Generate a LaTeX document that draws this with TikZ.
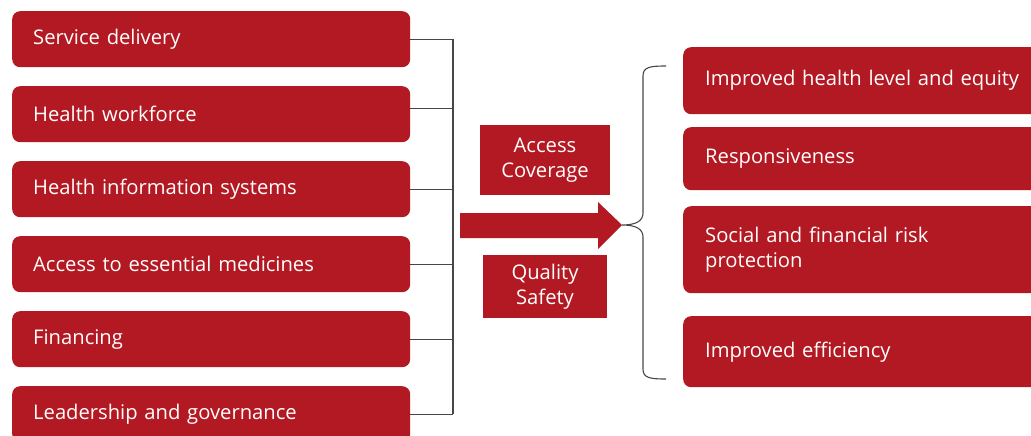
\documentclass[tikz,border=0pt]{standalone}
\usepackage{fontspec}
\setmainfont{Open Sans}
\usetikzlibrary{positioning}
\definecolor{boxred}{RGB}{179,25,34}
\definecolor{linegray}{RGB}{70,70,70}

\begin{document}
\begin{tikzpicture}[
x=1pt,y=-1pt,
SysBox/.style={fill=boxred,rounded corners=8pt,minimum width=398pt,minimum height=56pt,
  inner xsep=21pt,inner ysep=0pt,text width=356pt,align=left,anchor=north west},
GoalBox/.style={fill=boxred,rounded corners=8pt,minimum width=380pt,
  inner xsep=22pt,inner ysep=0pt,text width=340pt,align=left,anchor=north west},
MidBox/.style={fill=boxred,inner sep=0pt,align=center},
BoxFont/.style={text=white,font=\fontsize{20.2}{25}\selectfont},
Lines/.style={draw=linegray,line width=1.2pt},
every node/.style={BoxFont}
]
\clip (0,0) rectangle (1031,436);

% building blocks
\foreach \txt [count=\i from 0] in {Service delivery,Health workforce,Health information systems,
  Access to essential medicines,Financing,Leadership and governance}
  \node[SysBox] (sys\i) at (12,11+75*\i) {\txt};

\coordinate (bus) at (453,39);
\draw[Lines] (sys0.east) -- (sys0.east -| bus);
\draw[Lines] ([yshift=6pt]sys1.east) -- ([yshift=6pt]sys1.east -| bus);
\foreach \i in {2,...,5}
  \draw[Lines] (sys\i.east) -- (sys\i.east -| bus);
\draw[Lines] (sys0.east -| bus) -- (sys5.east -| bus);

% middle
\node[MidBox,minimum width=130pt,minimum height=70pt] (access) at (545,160) {Access\\Coverage};
\node[MidBox,minimum width=124pt,minimum height=63pt] (quality) at (545,286.5) {Quality\\Safety};

\coordinate (tip) at (622,225);
\fill[boxred] (460,213) -- (598,213) -- (598,202) -- (tip) -- (598,249) -- (598,238) -- (460,238) -- cycle;

% brace
\coordinate (braceTop) at (666,66);
\coordinate (braceBot) at (666,379);
\draw[Lines,line width=1.1pt] (braceTop) .. controls (650,66) and (643,67) .. (643,76) -- (643,213)
  .. controls (643,221) and (636,225) .. (tip)
  .. controls (636,225) and (643,229) .. (643,237) -- (643,369)
  .. controls (643,378) and (650,379) .. (braceBot);

% outcomes
\node[GoalBox,minimum height=67pt] (goal0) at (683,47) {Improved health level and equity};
\node[GoalBox,minimum height=63pt] (goal1) at (683,127) {Responsiveness};
\node[GoalBox,minimum height=87pt] (goal2) at (683,206) {Social and financial risk\\protection};
\node[GoalBox,minimum height=71pt] (goal3) at (683,316) {Improved efficiency};

\end{tikzpicture}
\end{document}
